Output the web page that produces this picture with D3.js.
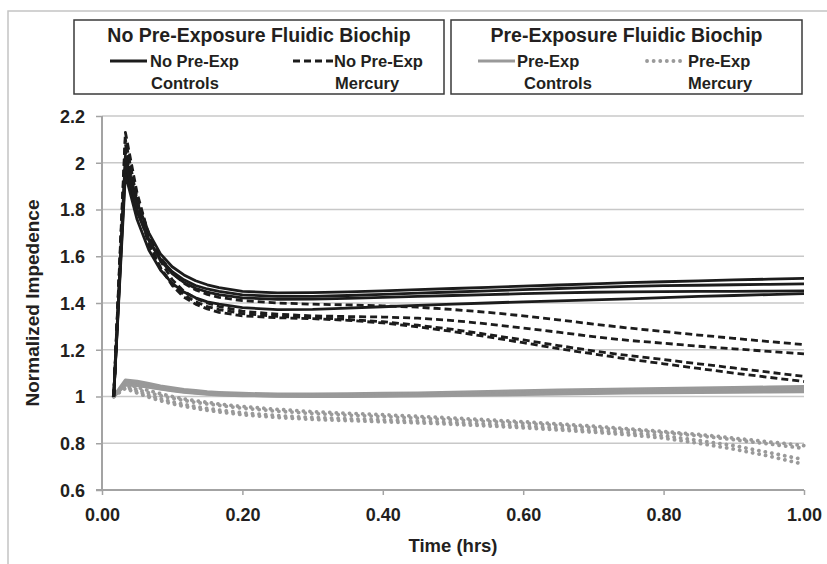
<!DOCTYPE html>
<html>
<head>
<meta charset="utf-8">
<script src="https://cdn.jsdelivr.net/npm/d3@7"></script>
<style>
  html, body { margin: 0; padding: 0; background: #ffffff; }
  svg { display: block; }
  text { font-family: "Liberation Sans", Arial, Helvetica, sans-serif; font-weight: bold; fill: #231f20; }
</style>
</head>
<body>
<svg id="chart" width="827" height="564"></svg>
<script>
// ---------------- DATA ----------------
const times = [0.0167, 0.0333, 0.05, 0.0667, 0.0833, 0.1, 0.1167, 0.1333, 0.15, 0.1667,
  0.2, 0.25, 0.3, 0.35, 0.4, 0.45, 0.5, 0.55, 0.6, 0.65, 0.7, 0.75, 0.8, 0.85, 0.9, 0.95, 1.0];

// No Pre-Exp Controls (black solid)
const noPreControls1 = [1.0, 2.03, 1.83, 1.70, 1.61, 1.555, 1.52, 1.495, 1.478, 1.466, 1.450, 1.443, 1.444, 1.448, 1.452, 1.457, 1.462, 1.467, 1.472, 1.477, 1.482, 1.487, 1.491, 1.495, 1.499, 1.502, 1.505];
const noPreControls2 = [1.0, 1.98, 1.79, 1.67, 1.588, 1.534, 1.499, 1.475, 1.46, 1.45, 1.435, 1.428, 1.428, 1.432, 1.437, 1.442, 1.447, 1.452, 1.457, 1.462, 1.467, 1.471, 1.474, 1.476, 1.478, 1.480, 1.482];
const noPreControls3 = [1.0, 2.0, 1.80, 1.669, 1.583, 1.526, 1.488, 1.463, 1.447, 1.436, 1.422, 1.416, 1.417, 1.42, 1.424, 1.428, 1.432, 1.436, 1.44, 1.443, 1.446, 1.448, 1.449, 1.45, 1.45, 1.451, 1.452];
const noPreControls4 = [1.0, 1.95, 1.757, 1.627, 1.541, 1.484, 1.447, 1.422, 1.405, 1.395, 1.38, 1.372, 1.373, 1.378, 1.384, 1.39, 1.395, 1.40, 1.405, 1.409, 1.413, 1.418, 1.423, 1.428, 1.432, 1.436, 1.44];

// No Pre-Exp Mercury (black dashed)
const noPreMercury1 = [1.0, 2.08, 1.848, 1.695, 1.595, 1.529, 1.485, 1.456, 1.437, 1.424, 1.41, 1.40, 1.395, 1.392, 1.388, 1.382, 1.372, 1.36, 1.345, 1.328, 1.31, 1.293, 1.278, 1.263, 1.249, 1.235, 1.222];
const noPreMercury2 = [1.0, 2.13, 1.87, 1.69, 1.58, 1.50, 1.45, 1.42, 1.40, 1.385, 1.365, 1.352, 1.345, 1.342, 1.34, 1.335, 1.325, 1.31, 1.293, 1.275, 1.256, 1.24, 1.228, 1.215, 1.204, 1.193, 1.182];
const noPreMercury3 = [1.0, 2.05, 1.82, 1.65, 1.55, 1.48, 1.435, 1.405, 1.385, 1.372, 1.355, 1.343, 1.337, 1.33, 1.32, 1.305, 1.287, 1.265, 1.242, 1.218, 1.195, 1.175, 1.158, 1.14, 1.122, 1.104, 1.086];
const noPreMercury4 = [1.0, 2.10, 1.84, 1.66, 1.55, 1.475, 1.425, 1.395, 1.375, 1.36, 1.345, 1.337, 1.333, 1.326, 1.315, 1.298, 1.278, 1.255, 1.23, 1.205, 1.182, 1.16, 1.14, 1.12, 1.10, 1.082, 1.064];

// Pre-Exp Controls (gray solid)
const preControls1 = [1.0, 1.07, 1.065, 1.055, 1.045, 1.037, 1.03, 1.025, 1.02, 1.017, 1.013, 1.01, 1.01, 1.011, 1.013, 1.015, 1.018, 1.021, 1.024, 1.027, 1.03, 1.032, 1.034, 1.036, 1.038, 1.04, 1.042];
const preControls2 = [1.0, 1.06, 1.058, 1.05, 1.04, 1.032, 1.026, 1.02, 1.016, 1.013, 1.009, 1.006, 1.005, 1.006, 1.008, 1.01, 1.013, 1.016, 1.019, 1.022, 1.025, 1.027, 1.029, 1.031, 1.033, 1.034, 1.035];
const preControls3 = [1.0, 1.055, 1.05, 1.042, 1.034, 1.027, 1.021, 1.016, 1.012, 1.009, 1.005, 1.003, 1.002, 1.003, 1.004, 1.006, 1.008, 1.011, 1.014, 1.017, 1.02, 1.022, 1.024, 1.025, 1.026, 1.027, 1.028];
const preControls4 = [1.0, 1.05, 1.047, 1.04, 1.032, 1.025, 1.019, 1.014, 1.01, 1.007, 1.004, 1.002, 1.0, 1.0, 1.001, 1.003, 1.005, 1.007, 1.009, 1.011, 1.013, 1.015, 1.017, 1.018, 1.019, 1.02, 1.021];

// Pre-Exp Mercury (gray dotted)
const preMercury1 = [1.0, 1.055, 1.04, 1.025, 1.012, 1.0, 0.99, 0.982, 0.975, 0.968, 0.957, 0.945, 0.935, 0.928, 0.922, 0.915, 0.908, 0.9, 0.892, 0.883, 0.873, 0.862, 0.85, 0.838, 0.822, 0.806, 0.79];
const preMercury2 = [1.0, 1.045, 1.03, 1.015, 1.003, 0.992, 0.983, 0.975, 0.968, 0.962, 0.95, 0.937, 0.927, 0.92, 0.914, 0.907, 0.9, 0.893, 0.885, 0.876, 0.866, 0.856, 0.845, 0.832, 0.815, 0.797, 0.778];
const preMercury3 = [1.0, 1.04, 1.022, 1.005, 0.99, 0.977, 0.966, 0.957, 0.949, 0.942, 0.93, 0.918, 0.91, 0.905, 0.9, 0.895, 0.889, 0.882, 0.874, 0.865, 0.855, 0.845, 0.832, 0.812, 0.79, 0.76, 0.73];
const preMercury4 = [1.0, 1.035, 1.015, 0.997, 0.982, 0.969, 0.958, 0.949, 0.941, 0.934, 0.922, 0.91, 0.902, 0.897, 0.892, 0.887, 0.881, 0.874, 0.866, 0.857, 0.847, 0.836, 0.822, 0.8, 0.775, 0.745, 0.71];

const xTicks = [0, 0.2, 0.4, 0.6, 0.8, 1.0];
const xTickLabels = ["0.00", "0.20", "0.40", "0.60", "0.80", "1.00"];
const yTicks = [0.6, 0.8, 1.0, 1.2, 1.4, 1.6, 1.8, 2.0, 2.2];
const yTickLabels = ["0.6", "0.8", "1", "1.2", "1.4", "1.6", "1.8", "2", "2.2"];

const xTitle = "Time (hrs)";
const yTitle = "Normalized Impedence";
const legendGroups = [
  { title: "No Pre-Exposure Fluidic Biochip",
    items: [{ l1: "No Pre-Exp", l2: "Controls", style: "blackSolid" },
            { l1: "No Pre-Exp", l2: "Mercury", style: "blackDash" }] },
  { title: "Pre-Exposure Fluidic Biochip",
    items: [{ l1: "Pre-Exp", l2: "Controls", style: "graySolid" },
            { l1: "Pre-Exp", l2: "Mercury", style: "grayDot" }] }
];

// ---------------- STYLES ----------------
const styles = {
  blackSolid: { stroke: "#1c1c1c", width: 2.8, dash: null, cap: "butt" },
  blackDash:  { stroke: "#1c1c1c", width: 2.8, dash: "7,4", cap: "butt" },
  graySolid:  { stroke: "#999999", width: 3.2, dash: null, cap: "butt" },
  grayDot:    { stroke: "#9a9a9a", width: 3.8, dash: "0.1,6.5", cap: "round" }
};

const seriesList = [
  { v: preControls1, s: "graySolid" }, { v: preControls2, s: "graySolid" },
  { v: preControls3, s: "graySolid" }, { v: preControls4, s: "graySolid" },
  { v: preMercury1, s: "grayDot" }, { v: preMercury2, s: "grayDot" },
  { v: preMercury3, s: "grayDot" }, { v: preMercury4, s: "grayDot" },
  { v: noPreMercury1, s: "blackDash" }, { v: noPreMercury2, s: "blackDash" },
  { v: noPreMercury3, s: "blackDash" }, { v: noPreMercury4, s: "blackDash" },
  { v: noPreControls1, s: "blackSolid" }, { v: noPreControls2, s: "blackSolid" },
  { v: noPreControls3, s: "blackSolid" }, { v: noPreControls4, s: "blackSolid" }
];

// ---------------- DRAW ----------------
const svg = d3.select("#chart");
const plot = { left: 102, right: 804, top: 116, bottom: 490 };

const x = d3.scaleLinear().domain([0, 1]).range([plot.left, plot.right]);
const y = d3.scaleLinear().domain([0.6, 2.2]).range([plot.bottom, plot.top]);

// outer frame (partially visible)
svg.append("path")
  .attr("d", "M8,564 V11 H827")
  .attr("fill", "none").attr("stroke", "#c4c4c4").attr("stroke-width", 1.5);

// gridlines
svg.append("g").selectAll("line").data(yTicks.filter(d => d > 0.6)).join("line")
  .attr("x1", plot.left).attr("x2", plot.right)
  .attr("y1", d => y(d)).attr("y2", d => y(d))
  .attr("stroke", "#c8c8c8").attr("stroke-width", 1.5);

// y axis
const yAxis = d3.axisLeft(y).tickValues(yTicks).tickSize(6).tickPadding(11)
  .tickFormat((d, i) => yTickLabels[i]);
const gy = svg.append("g").attr("transform", `translate(${plot.left},0)`).call(yAxis);
gy.select(".domain").attr("stroke", "#a3a3a3").attr("stroke-width", 2)
  .attr("d", `M-6,${plot.bottom}H0V${plot.top}`);
gy.selectAll(".tick line").attr("stroke", "#a3a3a3").attr("stroke-width", 1.5);
gy.selectAll(".tick text").attr("font-size", 18).attr("font-family", null)
  .attr("fill", "#231f20").attr("dy", "0.35em");

// x axis
const xAxis = d3.axisBottom(x).tickValues(xTicks).tickSize(5).tickPadding(13)
  .tickFormat((d, i) => xTickLabels[i]);
const gx = svg.append("g").attr("transform", `translate(0,${plot.bottom})`).call(xAxis);
gx.select(".domain").attr("stroke", "#a3a3a3").attr("stroke-width", 2)
  .attr("d", `M${plot.left},0H${plot.right}`);
gx.selectAll(".tick line").attr("stroke", "#a3a3a3").attr("stroke-width", 1.5);
gx.selectAll(".tick text").attr("font-size", 18).attr("font-family", null).attr("fill", "#231f20");

// axis titles
svg.append("text").attr("x", (plot.left + plot.right) / 2).attr("y", 552)
  .attr("text-anchor", "middle").attr("font-size", 18.5).text(xTitle);
svg.append("text").attr("transform", `translate(38.5,${(plot.top + plot.bottom) / 2}) rotate(-90)`)
  .attr("text-anchor", "middle").attr("font-size", 19).text(yTitle);

// lines
const line = d3.line().x((d, i) => x(times[i])).y(d => y(d)).curve(d3.curveLinear);
const gLines = svg.append("g");
seriesList.forEach(sr => {
  const st = styles[sr.s];
  gLines.append("path").datum(sr.v).attr("d", line)
    .attr("fill", "none").attr("stroke", st.stroke).attr("stroke-width", st.width)
    .attr("stroke-dasharray", st.dash).attr("stroke-linecap", st.cap)
    .attr("stroke-linejoin", "round");
});

// legend
const legendBoxes = [
  { x0: 74, x1: 444, samples: [[110, 147, 150, 151], [293, 333, 334, 335]] },
  { x0: 451, x1: 802, samples: [[478, 515, 517, 524], [647, 685, 688, 688]] }
];
legendGroups.forEach((g, gi) => {
  const b = legendBoxes[gi];
  const lg = svg.append("g");
  lg.append("rect").attr("x", b.x0).attr("y", 20).attr("width", b.x1 - b.x0).attr("height", 74)
    .attr("fill", "#fff").attr("stroke", "#3a3a3a").attr("stroke-width", 1.5);
  lg.append("text").attr("x", (b.x0 + b.x1) / 2).attr("y", 42).attr("text-anchor", "middle")
    .attr("font-size", 19.5).text(g.title);
  g.items.forEach((it, ii) => {
    const sm = b.samples[ii];
    const st = styles[it.style];
    lg.append("line").attr("x1", sm[0]).attr("x2", sm[1]).attr("y1", 61).attr("y2", 61)
      .attr("stroke", st.stroke).attr("stroke-width", st.width)
      .attr("stroke-dasharray", st.dash).attr("stroke-linecap", st.cap);
    lg.append("text").attr("x", sm[2]).attr("y", 67).attr("font-size", 16.5).text(it.l1);
    lg.append("text").attr("x", sm[3]).attr("y", 89).attr("font-size", 16.5).text(it.l2);
  });
});
</script>
</body>
</html>
